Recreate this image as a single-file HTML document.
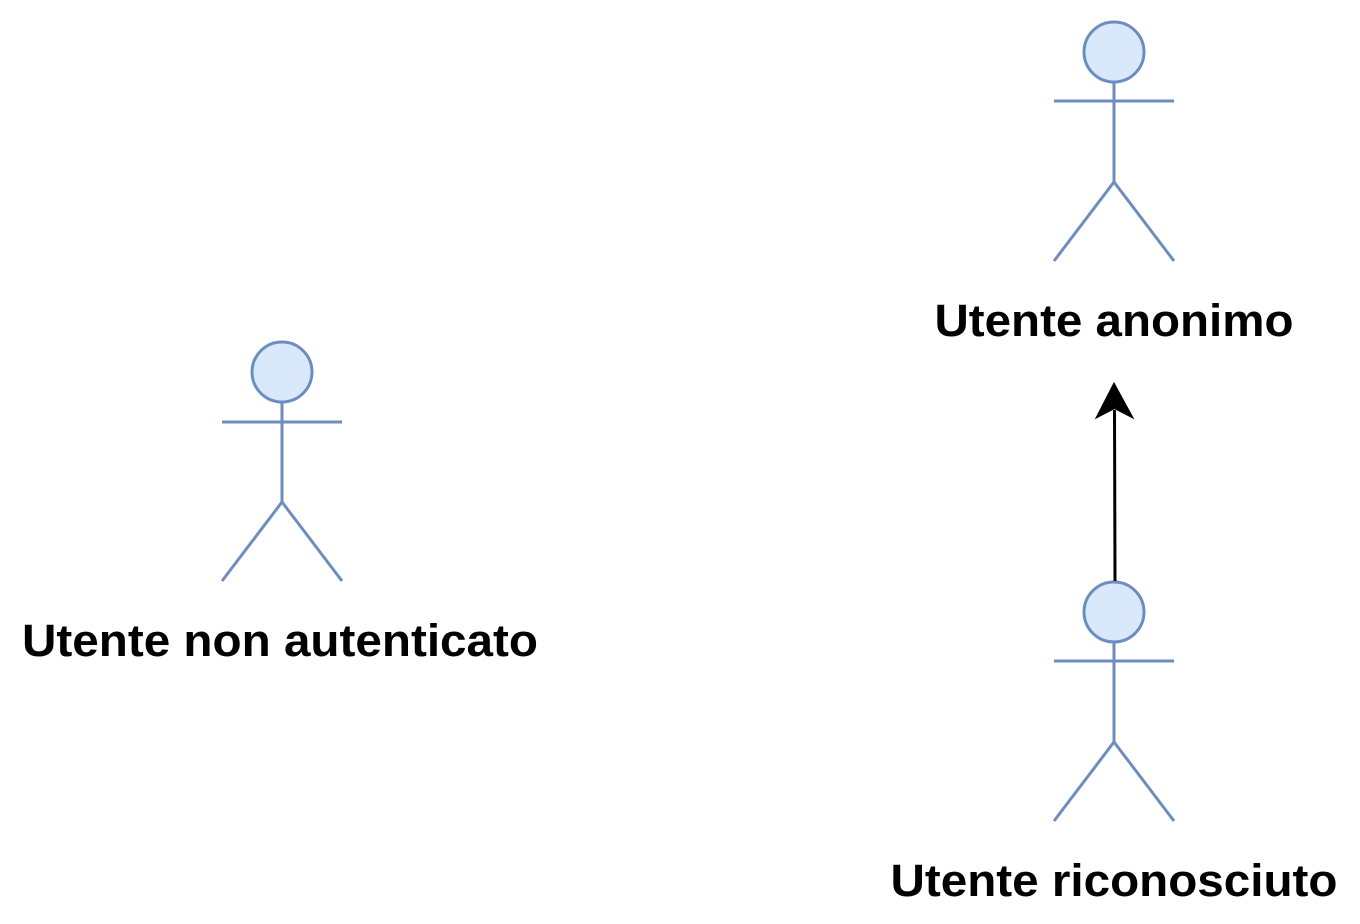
<!DOCTYPE html>
<html><head><meta charset="utf-8"><style>html,body{margin:0;padding:0;background:#fff}svg{display:block}</style></head>
<body>
<svg width="1360" height="924" viewBox="0 0 1360 924" xmlns="http://www.w3.org/2000/svg">
<g fill="#dae8fc" stroke="#6c8ebf" stroke-width="3">
  <circle cx="282" cy="372" r="30"/>
  <path d="M222 422H342M282 402V502M222 581L282 502L342 581" fill="none"/>
  <circle cx="1114" cy="52" r="30"/>
  <path d="M1054 101H1174M1114 82V182M1054 261L1114 182L1174 261" fill="none"/>
  <circle cx="1114" cy="612" r="30"/>
  <path d="M1054 661H1174M1114 642V742M1054 821L1114 742L1174 821" fill="none"/>
</g>
<path d="M1115 581L1114.5 410" stroke="#000" stroke-width="3" fill="none"/>
<path d="M1114 384L1132 417L1114.5 408L1097 417Z" fill="#000" stroke="#000" stroke-width="2" stroke-linejoin="miter"/>
<g font-family="Liberation Sans, sans-serif" font-weight="bold" font-size="45" fill="#000" text-anchor="middle">
  <text x="280" y="656" textLength="516" lengthAdjust="spacingAndGlyphs">Utente non autenticato</text>
  <text x="1114" y="336" textLength="359" lengthAdjust="spacingAndGlyphs">Utente anonimo</text>
  <text x="1114" y="896" textLength="447" lengthAdjust="spacingAndGlyphs">Utente riconosciuto</text>
</g>
</svg>
</body></html>
